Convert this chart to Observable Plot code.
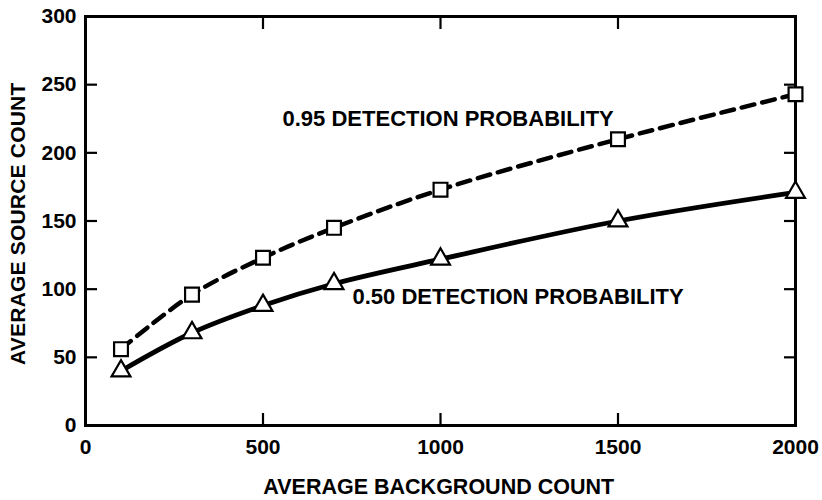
<!DOCTYPE html>
<html>
<head>
<meta charset="utf-8">
<script src="https://cdn.jsdelivr.net/npm/d3@7"></script>
<script src="https://cdn.jsdelivr.net/npm/@observablehq/plot@0.6"></script>
<style>
  html, body { margin: 0; padding: 0; background: #fff; }
  #chart svg { display: block; }
</style>
</head>
<body>
<div id="chart"></div>
<script>
// Data
const background = [100, 300, 500, 700, 1000, 1500, 2000];
const source95 = [56, 96, 123, 145, 173, 210, 243];
const source50 = [40, 68, 88, 104, 122, 150, 171];
const xTicks = [0, 500, 1000, 1500, 2000];
const yTicks = [0, 50, 100, 150, 200, 250, 300];
const seriesLabels = ["0.95 DETECTION PROBABILITY", "0.50 DETECTION PROBABILITY"];
const xTitle = "AVERAGE BACKGROUND COUNT";
const yTitle = "AVERAGE SOURCE COUNT";

const d95 = background.map((x, i) => ({x, y: source95[i]}));
const d50 = background.map((x, i) => ({x, y: source50[i]}));

const font = "'Liberation Sans', Arial, sans-serif";
const innerX = xTicks.slice(1, -1);
const innerY = yTicks.slice(1, -1);
const xDom = [0, 2000], yDom = [0, 300];
const tickIn = -12;   // negative tick size: ticks point inward
const noLabel = () => "";

const chart = Plot.plot({
  width: 822,
  height: 500,
  marginLeft: 85,
  marginRight: 27,
  marginTop: 16,
  marginBottom: 75,
  style: {fontFamily: font, fontSize: "21px", fontWeight: "bold", color: "#000", background: "#fff"},
  x: {domain: xDom},
  y: {domain: yDom},
  marks: [
    Plot.frame({stroke: "#000", strokeWidth: 3}),
    // tick labels
    Plot.axisX({ticks: xTicks, tickSize: 0, tickPadding: 14, tickFormat: d => String(d), label: null}),
    Plot.axisY({ticks: yTicks, tickSize: 0, tickPadding: 9, tickFormat: d => String(d), label: null}),
    // inward tick marks on all four sides
    Plot.axisX({anchor: "bottom", ticks: innerX, tickSize: tickIn, tickFormat: noLabel, label: null, strokeWidth: 2.2}),
    Plot.axisX({anchor: "top", ticks: innerX, tickSize: tickIn, tickFormat: noLabel, label: null, strokeWidth: 2.2}),
    Plot.axisY({anchor: "left", ticks: innerY, tickSize: tickIn, tickFormat: noLabel, label: null, strokeWidth: 2.2}),
    Plot.axisY({anchor: "right", ticks: innerY, tickSize: tickIn, tickFormat: noLabel, label: null, strokeWidth: 2.2}),
    // axis titles
    Plot.text([xTitle], {x: (xDom[0] + xDom[1]) / 2 - 5, y: yDom[0], dy: 62, text: d => d, fontSize: 21.5, fill: "#000"}),
    Plot.text([yTitle], {x: xDom[0], y: (yDom[0] + yDom[1]) / 2 - 2, dx: -67, rotate: -90, text: d => d, fontSize: 21, fill: "#000"}),
    // curves
    Plot.line(d95, {x: "x", y: "y", curve: "catmull-rom", stroke: "#000", strokeWidth: 4.5, strokeDasharray: "13,8"}),
    Plot.line(d50, {x: "x", y: "y", curve: "catmull-rom", stroke: "#000", strokeWidth: 4.8}),
    Plot.dot(d95, {x: "x", y: "y", symbol: "square", r: 7.8, fill: "#fff", stroke: "#000", strokeWidth: 2.2}),
    Plot.dot(d50, {x: "x", y: "y", symbol: "triangle", r: 7, fill: "#fff", stroke: "#000", strokeWidth: 2.2}),
    // series annotations
    Plot.text([seriesLabels[0]], {x: 555, y: 224.5, text: d => d, textAnchor: "start", fontSize: 22, fill: "#000"}),
    Plot.text([seriesLabels[1]], {x: 752, y: 94.6, text: d => d, textAnchor: "start", fontSize: 22, fill: "#000"})
  ]
});
chart.querySelectorAll("text").forEach(t => {
  if (t.textContent === yTitle) t.style.letterSpacing = "0.2px";
});
document.getElementById("chart").appendChild(chart);
</script>
</body>
</html>
